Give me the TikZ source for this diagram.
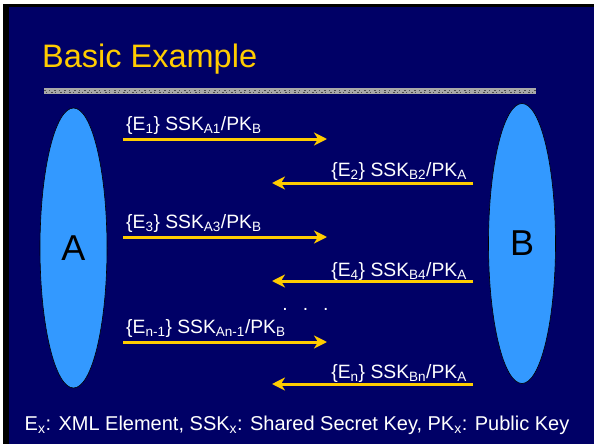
\documentclass[tikz,border=0pt]{standalone}
\usepackage{fontspec}
\setmainfont{Liberation Sans}
\usetikzlibrary{shapes.geometric,arrows.meta}
\definecolor{slidebg}{HTML}{000066}
\definecolor{gold}{HTML}{FFCC00}
\definecolor{party}{HTML}{3399FF}
\definecolor{barcol}{HTML}{A8A8A8}
\tikzset{
  partybox/.style={ellipse, draw=black, line width=0.6pt, fill=party, inner sep=0pt,
    minimum width=67pt, minimum height=280pt, text=black,
    font=\fontsize{36}{40}\selectfont},
  msg/.style={draw=gold, line width=3pt, -{Stealth[length=13pt,width=13pt,inset=4pt]}},
  msglabel/.style={text=white, inner sep=0pt, font=\fontsize{19.3}{23}\selectfont},
}
\begin{document}
\begin{tikzpicture}[x=1pt,y=-1pt]
\useasboundingbox (0,0) rectangle (594,444);
\fill[white] (0,0) rectangle (594,444);
\fill[black] (3,4) rectangle (594,444);
\fill[slidebg] (9,7) rectangle (594,444);
% title and rule
\node[anchor=base west, inner sep=0pt, text=gold, font=\fontsize{32.5}{38}\selectfont] (title) at (42,67) {Basic Example};
\fill[barcol] (44,88) rectangle (536,94);
\draw[gray!60!black, line width=1pt, dash pattern=on 2pt off 3pt on 1pt off 4pt] (44,90) -- (536,90);
\draw[gray!60!black, line width=1pt, dash pattern=on 1pt off 4pt on 2pt off 2pt] (46,92.5) -- (536,92.5);
% parties
\node[partybox] (A) at (73.5,248) {A};
\node[partybox] (B) at (522,243.5) {B};
% arrow end points
\coordinate (m1s) at (123,139); \coordinate (m1e) at (327,139);
\coordinate (m2s) at (473,183); \coordinate (m2e) at (272,183);
\coordinate (m3s) at (123,237); \coordinate (m3e) at (327,237);
\coordinate (m4s) at (473,281); \coordinate (m4e) at (272,281);
\coordinate (m5s) at (123,342); \coordinate (m5e) at (327,342);
\coordinate (m6s) at (473,384); \coordinate (m6e) at (272,384);
\draw[msg] (m1s) -- (m1e);
\draw[msg] (m2s) -- (m2e);
\draw[msg] (m3s) -- (m3e);
\draw[msg] (m4s) -- (m4e);
\draw[msg] (m5s) -- (m5e);
\draw[msg] (m6s) -- (m6e);
% labels
\node[msglabel, anchor=base west] (l1) at (126,130) {\{E\textsubscript{1}\} SSK\textsubscript{A1}/PK\textsubscript{B}};
\node[msglabel, anchor=base east] (l2) at (467,176) {\{E\textsubscript{2}\} SSK\textsubscript{B2}/PK\textsubscript{A}};
\node[msglabel, anchor=base west] (l3) at (126,228) {\{E\textsubscript{3}\} SSK\textsubscript{A3}/PK\textsubscript{B}};
\node[msglabel, anchor=base east] (l4) at (467,276) {\{E\textsubscript{4}\} SSK\textsubscript{B4}/PK\textsubscript{A}};
\node[msglabel, anchor=base] (dots) at (305.5,310) {.\hspace{15pt}.\hspace{15pt}.};
\node[msglabel, anchor=base west] (l5) at (126,333) {\{E\textsubscript{n-1}\} SSK\textsubscript{An-1}/PK\textsubscript{B}};
\node[msglabel, anchor=base east] (l6) at (467,378) {\{E\textsubscript{n}\} SSK\textsubscript{Bn}/PK\textsubscript{A}};
% legend
\node[anchor=base, inner sep=0pt, text=white, font=\fontsize{20}{23}\selectfont] (legend) at (297,430)
  {E\textsubscript{x}: XML Element, SSK\textsubscript{x}: Shared Secret Key, PK\textsubscript{x}: Public Key};
\end{tikzpicture}
\end{document}
